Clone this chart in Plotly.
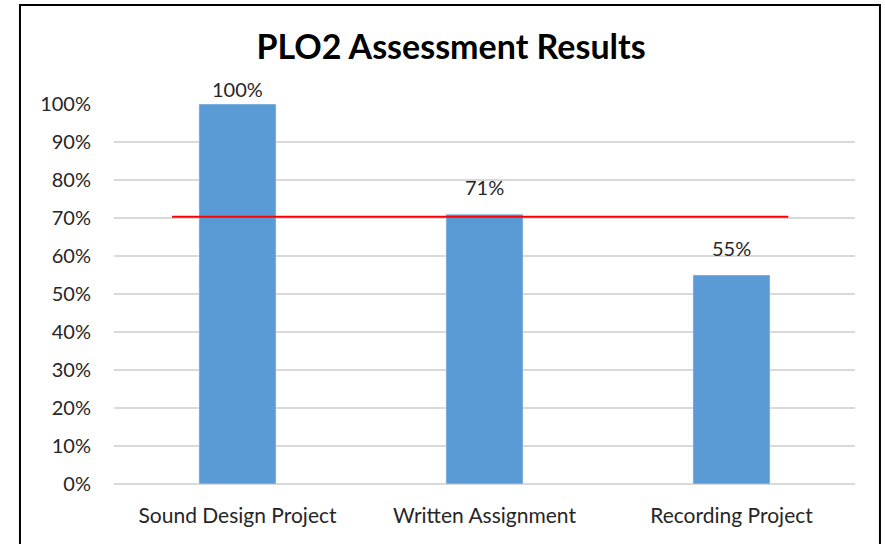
import plotly.graph_objects as go

categories = ['Sound Design Project', 'Written Assignment', 'Recording Project']
scores = [1.00, 0.71, 0.55]
target = 0.703
y_ticks = [0, 0.1, 0.2, 0.3, 0.4, 0.5, 0.6, 0.7, 0.8, 0.9, 1.0]
y_tick_labels = ['0%', '10%', '20%', '30%', '40%', '50%', '60%', '70%', '80%', '90%', '100%']

font = 'Lato, Open Sans, sans-serif'

fig = go.Figure()
fig.add_trace(go.Bar(x=categories, y=scores, marker_color='#5B9BD5', width=0.312,
                     hoverinfo='skip'))

# data labels above bars
for cat, v in zip(categories, scores):
    fig.add_annotation(x=cat, y=v, text=f'{round(v * 100)}%', showarrow=False,
                       yanchor='bottom', yshift=1 if v >= 1 else 13,
                       font=dict(family=font, size=20, color='#262626'))

# target line
fig.add_shape(type='line', xref='x', yref='y', x0=-0.265, x1=2.23, y0=target, y1=target,
              line=dict(color='#FF0000', width=2))

# outer frame
fig.add_shape(type='rect', xref='paper', yref='paper', x0=-0.1269, x1=1.0337, y0=-0.3, y1=1.2605,
              line=dict(color='#000000', width=2))

fig.update_layout(
    width=885, height=544,
    margin=dict(l=114, r=30, t=104, b=60),
    paper_bgcolor='white', plot_bgcolor='white',
    showlegend=False,
    title=dict(text='<b>PLO2 Assessment Results</b>', x=451 / 885, xanchor='center',
               y=1 - 47 / 544, yanchor='middle',
               font=dict(family=font, size=34, color='#000000')),
    font=dict(family=font, size=20, color='#262626'),
)
fig.update_xaxes(showline=False, ticks='', tickfont=dict(size=21), range=[-0.5, 2.5],
                 ticklabelstandoff=17)
fig.update_yaxes(range=[0, 1], tickvals=y_ticks, ticktext=y_tick_labels,
                 gridcolor='#D9D9D9', gridwidth=1.5, zeroline=True, zerolinecolor='#D9D9D9',
                 zerolinewidth=1.5, ticks='', tickfont=dict(size=20), ticklabelstandoff=22)

fig.write_html('out.html', config={'displayModeBar': False},
               post_script="document.body.style.margin='0';document.body.style.overflow='hidden';")
